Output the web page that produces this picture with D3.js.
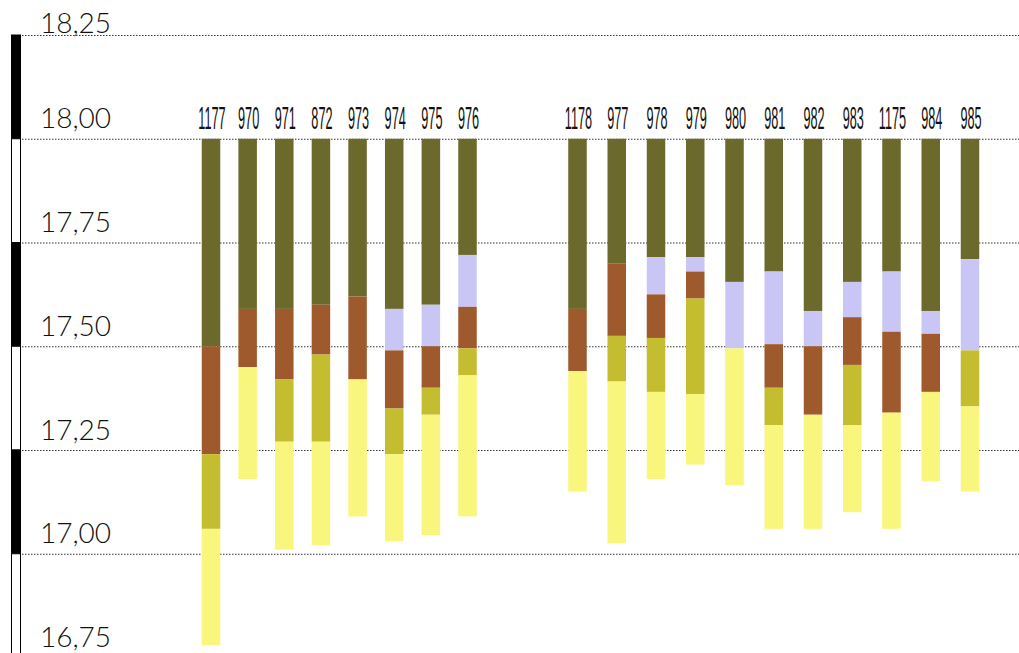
<!DOCTYPE html>
<html>
<head>
<meta charset="utf-8">
<script src="https://cdn.jsdelivr.net/npm/d3@7"></script>
<style>
  body { margin: 0; background: #fff; }
  .tick-label { font-family: "Lato", "DejaVu Sans", sans-serif; font-weight: 300; font-size: 28px; fill: #111; }
  .bar-label { font-family: "Liberation Sans", sans-serif; font-size: 31px; fill: #111; }
</style>
</head>
<body>
<svg id="chart" width="1019" height="653"></svg>
<script>
// sample ids, two groups
const samplesA = ["1177", "970", "971", "872", "973", "974", "975", "976"];
const samplesB = ["1178", "977", "978", "979", "980", "981", "982", "983", "1175", "984", "985"];
const samples = samplesA.concat(samplesB);

// layer thickness below the 18,00 datum (top to bottom)
const layers = ["olive", "lavender", "brown", "oliveYellow", "lightYellow"];
const olive       = [0.50, 0.41, 0.41, 0.40, 0.38, 0.41, 0.40, 0.28, 0.41, 0.30, 0.285, 0.285, 0.345, 0.32, 0.415, 0.345, 0.32, 0.415, 0.29];
const lavender    = [0, 0, 0, 0, 0, 0.10, 0.10, 0.125, 0, 0, 0.09, 0.035, 0.16, 0.175, 0.085, 0.085, 0.145, 0.055, 0.22];
const brown       = [0.26, 0.14, 0.17, 0.12, 0.20, 0.14, 0.10, 0.10, 0.15, 0.175, 0.105, 0.065, 0, 0.105, 0.165, 0.115, 0.195, 0.14, 0];
const oliveYellow = [0.18, 0, 0.15, 0.21, 0, 0.11, 0.065, 0.065, 0, 0.11, 0.13, 0.23, 0, 0.09, 0, 0.145, 0, 0, 0.135];
const lightYellow = [0.28, 0.27, 0.26, 0.25, 0.33, 0.21, 0.29, 0.34, 0.29, 0.39, 0.21, 0.17, 0.33, 0.25, 0.275, 0.21, 0.28, 0.215, 0.205];

const datum = 18.0;
const tickValues = [16.75, 17.0, 17.25, 17.5, 17.75, 18.0, 18.25];

const colors = {
  olive: "#6b6a2c",
  lavender: "#c9c6f5",
  brown: "#9e5a2c",
  oliveYellow: "#c3bd2f",
  lightYellow: "#f8f67c"
};

const width = 1019;
const height = 653;
const svg = d3.select("#chart");

const data = samples.map((s, i) => ({
  sample: s,
  olive: olive[i],
  lavender: lavender[i],
  brown: brown[i],
  oliveYellow: oliveYellow[i],
  lightYellow: lightYellow[i]
}));

const yScale = d3.scaleLinear().domain([16.75, 18.25]).range([657.5, 35]);

// x: two groups with a gap between them
const xA = d3.scalePoint().domain(samplesA).range([211, 467.5]);
const xB = d3.scalePoint().domain(samplesB).range([577.5, 970]);
const xCenter = s => (samplesA.includes(s) ? xA(s) : xB(s));
const barWidth = 18.5;

// alternating scale bar on the left
const scaleBar = svg.append("g");
const bands = d3.pairs(tickValues.slice().reverse());
scaleBar.selectAll("rect")
  .data(bands)
  .enter()
  .append("rect")
  .attr("x", 11.5)
  .attr("y", d => yScale(d[0]))
  .attr("width", 9)
  .attr("height", d => yScale(d[1]) - yScale(d[0]))
  .attr("fill", (d, i) => (i % 2 === 0 ? "#000" : "#fff"))
  .attr("stroke", "#000")
  .attr("stroke-width", 1);

// grid + labels
const yAxis = d3.axisRight(yScale)
  .tickValues(tickValues)
  .tickSize(width - 22)
  .tickFormat(d => d3.format(".2f")(d).replace(".", ","));

const yAxisG = svg.append("g")
  .attr("transform", "translate(22, 0)")
  .call(yAxis);

yAxisG.select(".domain").remove();
yAxisG.selectAll(".tick line")
  .attr("stroke", "#333")
  .attr("stroke-dasharray", "1.5,1.5");
yAxisG.selectAll(".tick text")
  .attr("class", "tick-label")
  .attr("x", 18)
  .attr("dy", d => (d === 18.25 ? -3 : -11))
  .attr("text-anchor", "start");

// stacked bars hanging from the datum
const stacked = d3.stack().keys(layers)(data);

const barsG = svg.append("g");
stacked.forEach(layer => {
  barsG.selectAll(null)
    .data(layer.filter(d => d[1] - d[0] > 0))
    .enter()
    .append("rect")
    .attr("x", d => xCenter(d.data.sample) - barWidth / 2)
    .attr("y", d => yScale(datum - d[0]))
    .attr("width", barWidth)
    .attr("height", d => yScale(datum - d[1]) - yScale(datum - d[0]))
    .attr("fill", colors[layer.key]);
});

// sample labels
svg.append("g")
  .selectAll("text")
  .data(samples)
  .enter()
  .append("text")
  .attr("class", "bar-label")
  .attr("text-anchor", "middle")
  .attr("transform", d => `translate(${xCenter(d) + 1}, 129) scale(0.41, 1)`)
  .text(d => d);
</script>
</body>
</html>
